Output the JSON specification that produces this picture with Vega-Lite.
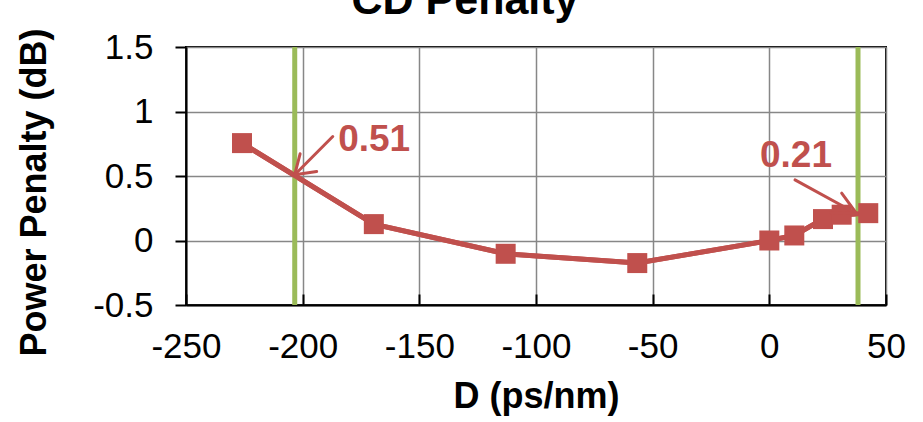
{
  "$schema": "https://vega.github.io/schema/vega-lite/v6.json",
  "width": 700,
  "height": 258,
  "autosize": {"type": "none"},
  "padding": {"left": 186, "top": 47, "right": 37, "bottom": 117},
  "background": "white",
  "title": {
    "text": "CD Penalty",
    "font": "Liberation Sans",
    "fontSize": 43,
    "fontWeight": "bold",
    "color": "#000000",
    "anchor": "middle",
    "frame": "group",
    "baseline": "alphabetic",
    "offset": 0,
    "dx": -71,
    "dy": 29
  },
  "config": {
    "view": {"stroke": "#000000", "strokeWidth": 2},
    "font": "Liberation Sans"
  },
  "datasets": {
    "pts": [
      {"D": -226, "P": 0.755},
      {"D": -169.5, "P": 0.127},
      {"D": -113, "P": -0.103},
      {"D": -56.6, "P": -0.175},
      {"D": 0, "P": 0.0},
      {"D": 10.7, "P": 0.039},
      {"D": 23, "P": 0.166},
      {"D": 31, "P": 0.2},
      {"D": 42.4, "P": 0.212}
    ],
    "lims": [{"D": -203.4}, {"D": 38}],
    "segs": [
      {"xa": -187.1, "ya": 0.806, "xb": -203.4, "yb": 0.51},
      {"xa": -201.1, "ya": 0.672, "xb": -203.4, "yb": 0.51},
      {"xa": -194, "ya": 0.535, "xb": -203.4, "yb": 0.51},
      {"xa": 11.0, "ya": 0.47, "xb": 37.5, "yb": 0.207},
      {"xa": 31.0, "ya": 0.367, "xb": 37.5, "yb": 0.207},
      {"xa": 26.5, "ya": 0.216, "xb": 37.5, "yb": 0.207}
    ],
    "labels": [
      {"D": -184.8, "P": 0.78, "t": "0.51"},
      {"D": -4, "P": 0.658, "t": "0.21"}
    ]
  },
  "layer": [
    {
      "data": {"name": "pts"},
      "mark": {"type": "line", "color": "#C0504D", "strokeWidth": 5},
      "encoding": {
        "x": {
          "field": "D",
          "type": "quantitative",
          "scale": {"domain": [-250, 50], "nice": false, "zero": false},
          "axis": {
            "title": "D (ps/nm)",
            "values": [-250, -200, -150, -100, -50, 0, 50],
            "labelExpr": "toString(datum.value)",
            "grid": true,
            "gridColor": "#878787",
            "gridWidth": 1.5,
            "domainColor": "#000000",
            "domainWidth": 2,
            "tickColor": "#000000",
            "tickWidth": 2,
            "tickSize": -11,
            "labelFont": "Liberation Sans",
            "labelFontSize": 35,
            "labelColor": "#000000",
            "labelPadding": 35,
            "labelFlush": false,
            "labelOverlap": false,
            "titleFont": "Liberation Sans",
            "titleFontSize": 36,
            "titleFontWeight": "bold",
            "titleColor": "#000000",
            "titleBaseline": "alphabetic",
            "titleY": 102
          }
        },
        "y": {
          "field": "P",
          "type": "quantitative",
          "scale": {"domain": [-0.5, 1.5], "nice": false, "zero": false},
          "axis": {
            "title": "Power Penalty (dB)",
            "values": [-0.5, 0, 0.5, 1, 1.5],
            "labelExpr": "toString(datum.value)",
            "grid": true,
            "gridColor": "#878787",
            "gridWidth": 1.5,
            "domainColor": "#000000",
            "domainWidth": 2,
            "tickColor": "#000000",
            "tickWidth": 2,
            "tickSize": 11,
            "labelFont": "Liberation Sans",
            "labelFontSize": 35,
            "labelColor": "#000000",
            "labelPadding": 22,
            "labelFlush": false,
            "labelOverlap": false,
            "titleFont": "Liberation Sans",
            "titleFontSize": 36,
            "titleFontWeight": "bold",
            "titleColor": "#000000",
            "titleAngle": -90,
            "titleBaseline": "alphabetic",
            "titleAlign": "center",
            "titleX": -141,
            "titleY": 145
          }
        }
      }
    },
    {
      "data": {"name": "lims"},
      "mark": {"type": "rule", "color": "#9BBB59", "strokeWidth": 5},
      "encoding": {
        "x": {"field": "D", "type": "quantitative"}
      }
    },
    {
      "data": {"name": "pts"},
      "mark": {"type": "line", "color": "#C0504D", "strokeWidth": 5},
      "encoding": {
        "x": {"field": "D", "type": "quantitative"},
        "y": {"field": "P", "type": "quantitative"}
      }
    },
    {
      "data": {"name": "pts"},
      "mark": {"type": "point", "shape": "square", "filled": true, "color": "#C0504D", "size": 400, "opacity": 1},
      "encoding": {
        "x": {"field": "D", "type": "quantitative"},
        "y": {"field": "P", "type": "quantitative"}
      }
    },
    {
      "data": {"name": "segs"},
      "mark": {"type": "rule", "color": "#C0504D", "strokeWidth": 3, "strokeCap": "round"},
      "encoding": {
        "x": {"field": "xa", "type": "quantitative"},
        "y": {"field": "ya", "type": "quantitative"},
        "x2": {"field": "xb"},
        "y2": {"field": "yb"}
      }
    },
    {
      "data": {"name": "labels"},
      "mark": {"type": "text", "color": "#C0504D", "font": "Liberation Sans", "fontSize": 37, "fontWeight": "bold", "align": "left", "baseline": "middle"},
      "encoding": {
        "x": {"field": "D", "type": "quantitative"},
        "y": {"field": "P", "type": "quantitative"},
        "text": {"field": "t"}
      }
    }
  ]
}
